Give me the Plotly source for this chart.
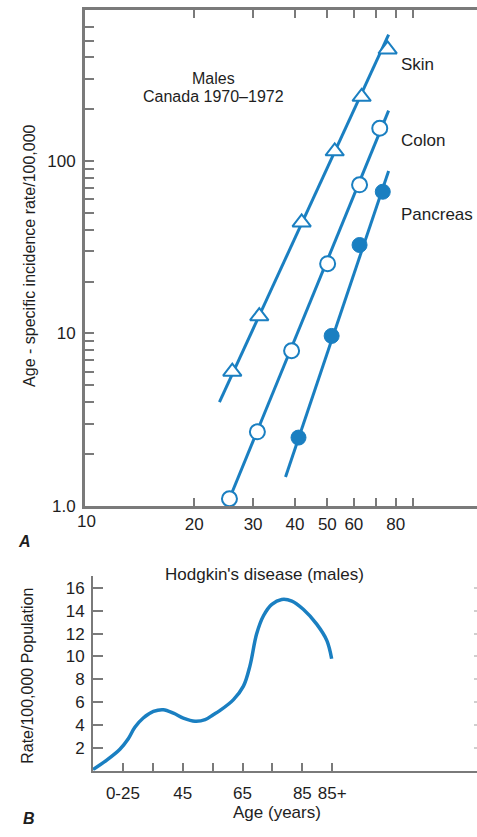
import plotly.graph_objects as go

W, H = 477, 837

# ---- Panel A data ----
skin_age = [26.0, 31.3, 41.9, 52.6, 63.3, 75.7]
skin_rate = [6.0, 12.6, 44.1, 114, 236, 444]
skin_fit_age = [23.8, 76.2]
skin_fit_rate = [4.0, 541]

colon_age = [25.5, 30.9, 39.1, 50.1, 62.4, 71.7]
colon_rate = [1.10, 2.69, 7.94, 25.4, 72.8, 155]
colon_fit_age = [25.5, 76.2]
colon_fit_rate = [1.10, 196]

pancreas_age = [41.0, 51.5, 62.4, 73.2]
pancreas_rate = [2.49, 9.68, 32.6, 66.4]
pancreas_fit_age = [37.5, 76.2]
pancreas_fit_rate = [1.47, 87.6]

a_xticks = [20, 30, 40, 50, 60, 70, 80, 90]
a_xticktext = ["20", "30", "40", "50", "60", "", "80", ""]
a_yticks = [1, 2, 3, 4, 5, 6, 7, 8, 9,
            10, 20, 30, 40, 50, 60, 70, 80, 90,
            100, 200, 300, 400, 500, 600]
a_yticktext = ["1.0"] + [""] * 8 + ["10"] + [""] * 8 + ["100"] + [""] * 5

# ---- Panel B data ----
hod_age = [15, 19.6, 24.0, 26.8, 29.0, 31.8, 35.2, 38.5, 41.9, 45.2, 49.1, 52.5,
           55.2, 57.5, 61.9, 65.3, 67.5, 69.7, 72.0, 74.8, 78.1, 81.5, 85.3,
           89.8, 93.2, 94.8]
hod_rate = [0.1, 0.93, 1.88, 2.80, 3.80, 4.61, 5.19, 5.34, 5.04, 4.61, 4.33, 4.47,
            4.90, 5.28, 6.20, 7.40, 9.20, 11.96, 13.56, 14.56, 14.99, 14.85,
            14.13, 12.83, 11.39, 9.80]
b_xticks = [25, 35, 45, 55, 65, 75, 85, 95]
b_xticktext = ["0-25", "", "45", "", "65", "", "85", "85+"]
b_yticks = [2, 4, 6, 8, 10, 12, 14, 16]

BLUE = "#1a7fc1"
GRAY = "#7a7a7a"
TXT = "#1e1e1e"
FONT = "Liberation Sans, Arial, sans-serif"


def px(x):
    return x / W


def py(y):
    return 1 - y / H


fig = go.Figure()

# Panel A lines and markers
for fa, fr in [(skin_fit_age, skin_fit_rate), (colon_fit_age, colon_fit_rate),
               (pancreas_fit_age, pancreas_fit_rate)]:
    fig.add_trace(go.Scatter(x=fa, y=fr, mode="lines", line=dict(color=BLUE, width=3),
                             xaxis="x", yaxis="y", showlegend=False, hoverinfo="skip"))
fig.add_trace(go.Scatter(x=skin_age, y=skin_rate, mode="markers", xaxis="x", yaxis="y",
                         marker=dict(symbol="triangle-up", size=16, color="white",
                                     line=dict(color=BLUE, width=2)), showlegend=False))
fig.add_trace(go.Scatter(x=colon_age, y=colon_rate, mode="markers", xaxis="x", yaxis="y",
                         marker=dict(symbol="circle", size=15, color="white",
                                     line=dict(color=BLUE, width=2)), showlegend=False))
fig.add_trace(go.Scatter(x=pancreas_age, y=pancreas_rate, mode="markers", xaxis="x", yaxis="y",
                         marker=dict(symbol="circle", size=15, color=BLUE,
                                     line=dict(color=BLUE, width=1)), showlegend=False))

# Panel B curve
fig.add_trace(go.Scatter(x=hod_age, y=hod_rate, mode="lines", xaxis="x2", yaxis="y2",
                         line=dict(color=BLUE, width=3.5, shape="spline", smoothing=1.0),
                         showlegend=False))
# invisible trace for right faint ticks axis
fig.add_trace(go.Scatter(x=[hod_age[0]], y=[hod_rate[0]], mode="markers", xaxis="x2", yaxis="y3",
                         marker=dict(opacity=0), showlegend=False, hoverinfo="skip"))

tickfont = dict(family=FONT, size=17, color=TXT)

fig.update_layout(
    width=W, height=H, margin=dict(l=0, r=0, t=0, b=0),
    paper_bgcolor="white", plot_bgcolor="white",
    xaxis=dict(type="log", domain=[px(85), 1], range=[0.975, 2.146], anchor="y",
               tickvals=a_xticks, ticktext=a_xticktext, ticks="inside", ticklen=8,
               tickwidth=1.5, tickcolor=GRAY, showline=True, linecolor=GRAY, linewidth=3,
               mirror="ticks", showgrid=False, zeroline=False, tickfont=tickfont,
               ticklabelstandoff=1),
    yaxis=dict(type="log", domain=[py(512), py(10)], range=[0, 2.877], anchor="x",
               tickvals=a_yticks, ticktext=a_yticktext, ticks="inside", ticklen=9,
               tickwidth=2, tickcolor=GRAY, showline=True, linecolor=GRAY, linewidth=3,
               showgrid=False, zeroline=False, tickfont=tickfont, ticklabelstandoff=3),
    xaxis2=dict(domain=[px(93), 1], range=[15, 143.4], anchor="y2",
                tickvals=b_xticks, ticktext=b_xticktext, ticks="inside", ticklen=8,
                tickwidth=1.5, tickcolor=GRAY, showline=True, linecolor=GRAY, linewidth=2,
                showgrid=False, zeroline=False, tickfont=tickfont, ticklabelstandoff=6),
    yaxis2=dict(domain=[py(780), py(583)], range=[0, 17.04], anchor="x2",
                tickvals=b_yticks, ticks="inside", ticklen=10, tickwidth=1.5,
                tickcolor=GRAY, showline=True, linecolor=GRAY, linewidth=2,
                showgrid=False, zeroline=False, tickfont=tickfont, ticklabelstandoff=3),
    yaxis3=dict(overlaying="y2", side="right", anchor="x2", range=[0, 17.04],
                tickvals=b_yticks, ticks="inside", ticklen=3, tickwidth=1.5,
                tickcolor="#cfcfcf", showline=False, showticklabels=False,
                showgrid=False, zeroline=False),
)

def ann(text, x, y, size=17, xanchor="center", textangle=0, **kw):
    fig.add_annotation(text=text, x=px(x), y=py(y), xref="paper", yref="paper",
                       showarrow=False, xanchor=xanchor, yanchor="middle",
                       textangle=textangle,
                       font=dict(family=FONT, size=size, color=TXT), **kw)

ann("10", 86, 528)
ann("Skin", 399, 65, xanchor="left")
ann("Colon", 399, 142, xanchor="left")
ann("Pancreas", 399, 217, xanchor="left")
ann("Males", 213, 79, size=16)
ann("Canada 1970–1972", 213, 98, size=16)
ann("Age - specific incidence rate/100,000", 30, 259, size=16, textangle=-90)
ann("<b><i>A</i></b>", 24, 548, size=16)

ann("Hodgkin's disease (males)", 264, 581)
ann("Age (years)", 277, 822)
ann("Rate/100,000 Population", 28, 684, size=16, textangle=-90)
ann("<b><i>B</i></b>", 29, 828, size=16)

fig.write_html("out.html", config={"displayModeBar": False},
               post_script="document.body.style.margin='0px';document.body.style.overflow='hidden';")
